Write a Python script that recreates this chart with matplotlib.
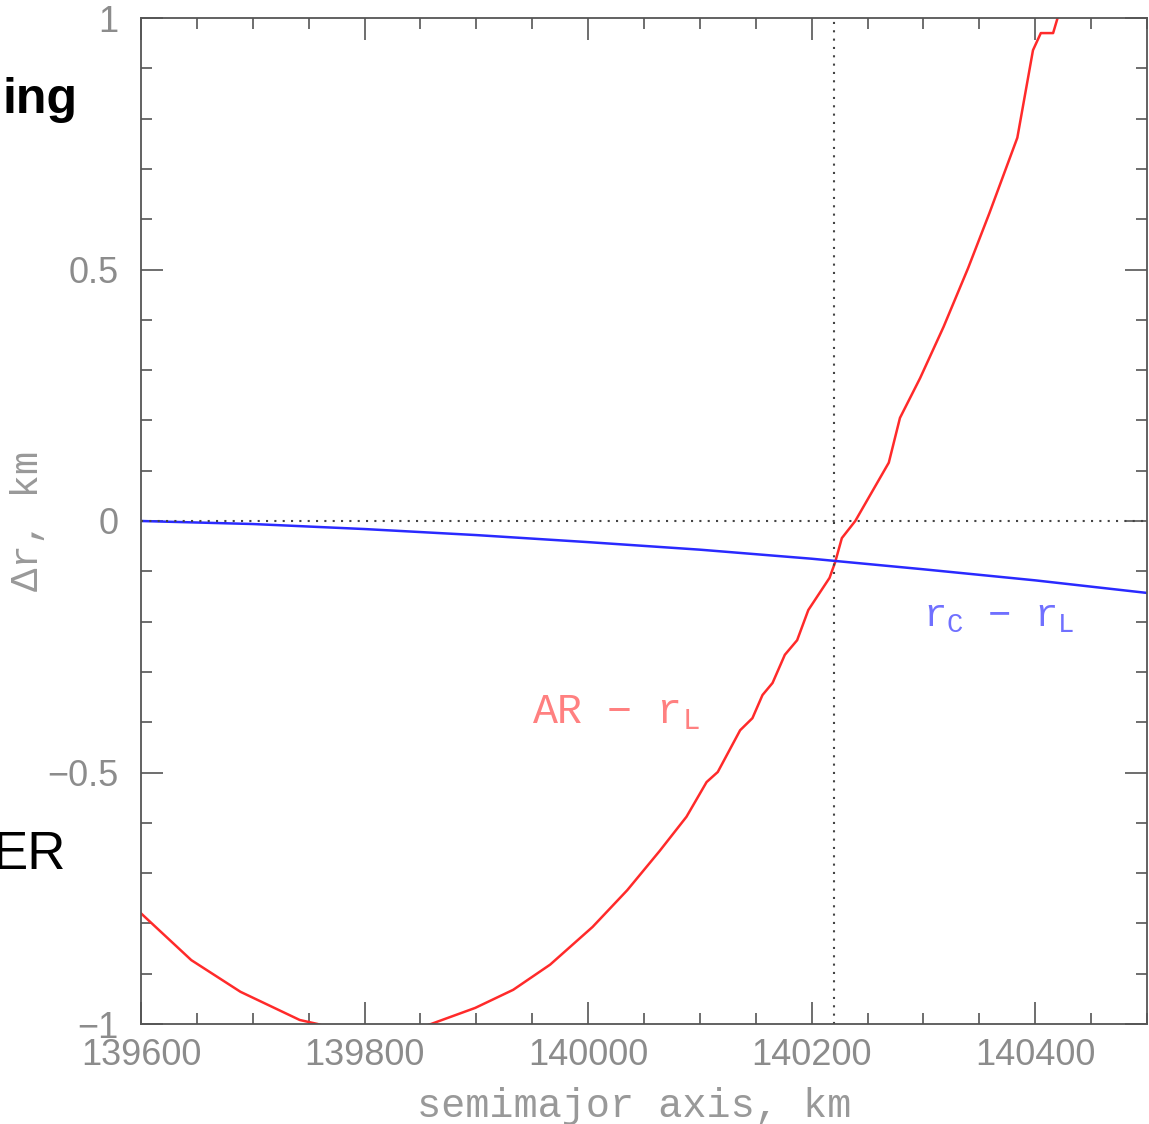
import numpy as np
import matplotlib.pyplot as plt
from matplotlib.ticker import MultipleLocator, FixedLocator, FixedFormatter

plt.rcParams['mathtext.fontset'] = 'custom'
plt.rcParams['mathtext.rm'] = 'Liberation Mono'
plt.rcParams['mathtext.it'] = 'Liberation Mono'

# AR - r_L (red curve)
ar_x = [139600, 139645, 139689, 139742, 139758, 139800, 139830, 139857, 139899,
        139933, 139966, 140004, 140035, 140064, 140088, 140106, 140116, 140136,
        140147, 140156, 140165, 140176, 140187, 140197, 140216, 140221, 140227,
        140239, 140269, 140279, 140297, 140318, 140340, 140359, 140384, 140398,
        140405, 140416, 140420, 140424]
ar_y = [-0.780, -0.873, -0.936, -0.992, -1.0, -1.03, -1.025, -1.002, -0.968,
        -0.932, -0.882, -0.807, -0.734, -0.656, -0.588, -0.519, -0.499, -0.416,
        -0.392, -0.346, -0.322, -0.266, -0.237, -0.177, -0.113, -0.082, -0.034,
        0.0, 0.116, 0.205, 0.284, 0.386, 0.503, 0.612, 0.762, 0.936,
        0.970, 0.970, 1.0, 1.04]

# r_C - r_L (blue curve)
rc_x = [139600, 139700, 139800, 139900, 140000, 140100, 140200, 140300, 140400, 140500]
rc_y = [0.0, -0.006, -0.016, -0.028, -0.042, -0.057, -0.075, -0.096, -0.118, -0.143]

a_cross = 140220
xticks = [139600, 139800, 140000, 140200, 140400]
yticks = [-1, -0.5, 0, 0.5, 1]
ylabels = ['\u22121', '\u22120.5', '0', '0.5', '1']

fig = plt.figure(figsize=(11.49, 11.24), dpi=100)
ax = fig.add_axes([141/1149, 1 - 1024/1124, 1006/1149, 1006/1124])

ax.plot(ar_x, ar_y, color='#ff2a2a', lw=1.8)
ax.plot(rc_x, rc_y, color='#2a2aff', lw=1.8)
ax.axhline(0, color='#444444', lw=1.5, ls=(0, (1, 3)))
ax.axvline(a_cross, color='#444444', lw=1.5, ls=(0, (1, 3)))

ax.set_xlim(139600, 140500)
ax.set_ylim(-1, 1)
ax.xaxis.set_major_locator(FixedLocator(xticks))
ax.xaxis.set_minor_locator(MultipleLocator(50))
ax.yaxis.set_major_locator(FixedLocator(yticks))
ax.yaxis.set_major_formatter(FixedFormatter(ylabels))
ax.yaxis.set_minor_locator(MultipleLocator(0.1))
ax.tick_params(which='both', direction='in', top=True, right=True, color='#555555', width=1.2)
ax.tick_params(which='major', length=16, labelsize=26, labelcolor='#8c8c8c', pad=10)
ax.tick_params(axis='y', which='major', pad=16)
ax.tick_params(which='minor', length=8)
for lab in ax.get_xticklabels() + ax.get_yticklabels():
    lab.set_family('Liberation Sans')
for s in ax.spines.values():
    s.set_color('#555555')
    s.set_linewidth(1.3)

ax.set_xlabel('semimajor axis, km', family='Liberation Mono', fontsize=29, color='#999999')
ax.xaxis.set_label_coords(0.49, -0.063)
ax.set_ylabel('\u0394r, km', family='Liberation Mono', fontsize=28, color='#999999')
ax.yaxis.set_label_coords(-0.094, 0.5)

ax.text(139950, -0.38, 'AR \u2212 r$_\\mathrm{L}$', family='Liberation Mono', fontsize=30,
        color='#ff8080', va='center')
ax.text(140300, -0.19, 'r$_\\mathrm{C}$ \u2212 r$_\\mathrm{L}$', family='Liberation Mono', fontsize=28,
        color='#7070ff', va='center')

fig.text(78/1149, 1 - 100/1124, 'ing', family='Liberation Sans', fontweight='bold',
         fontsize=36, ha='right', va='center')
fig.text(66/1149, 1 - 855/1124, 'ER', family='Liberation Sans', fontsize=38,
         ha='right', va='center')

fig.savefig('out.png', dpi=100)
